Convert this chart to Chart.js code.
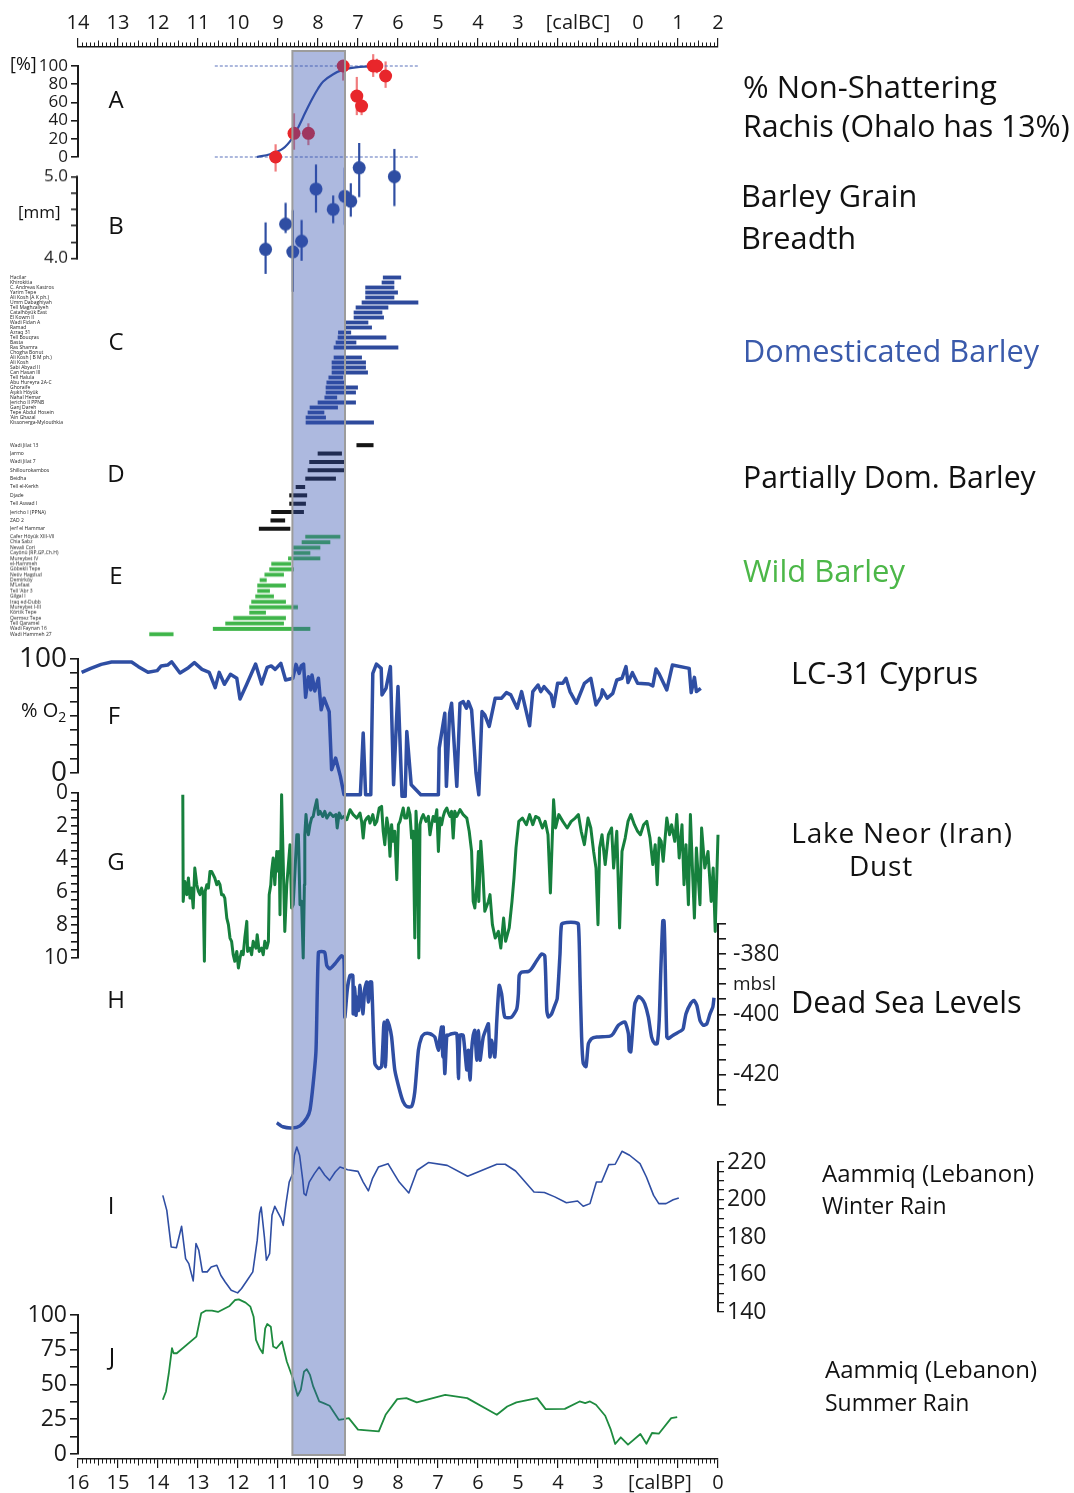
<!DOCTYPE html>
<html>
<head>
<meta charset="utf-8">
<script src="https://cdn.jsdelivr.net/npm/chart.js@4.4.0/dist/chart.umd.min.js"></script>
<style>
body { margin: 0; background: #fff; }
#page { position: relative; width: 1074px; height: 1493px; overflow: hidden; font-family: 'Open Sans', sans-serif; color: #111; }
#page canvas { position: absolute; left: 0; }
.t { position: absolute; white-space: nowrap; line-height: 1; }
</style>
</head>
<body>
<div id="page"></div>
<script>
// ========================================
// DATA (ages in kyr calBP)
// ========================================

// time axis
const bpMajor = [16, 15, 14, 13, 12, 11, 10, 9, 8, 7, 6, 5, 4, 3, 2, 1, 0];
const bpLabels = ['16', '15', '14', '13', '12', '11', '10', '9', '8', '7', '6', '5', '4', '3', '', '', '0'];
const bcLabels = ['14', '13', '12', '11', '10', '9', '8', '7', '6', '5', '4', '3', '', '', '0', '1', '2'];
const bpUnit = [1.45, '[calBP]'];
const bcUnit = [3.5, '[calBC]'];
const band = [10.64, 9.325];

// A - % non-shattering rachis
const rachisAge = [11.06, 10.6, 10.24, 9.37, 8.62, 8.53, 8.31, 9.03, 8.91];
const rachisPct = [0, 26, 26, 100, 100, 100, 89, 67, 56];
const rachisErrLo = [16, 18, 13, 16, 12, 8, 13, 21, 10];
const rachisErrHi = [14, 22, 11, 0, 13, 8, 16, 21, 10];
const curveAge = [11.53, 11.2, 10.87, 10.62, 10.5, 10.37, 10.25, 10.12, 10.0, 9.87, 9.62, 9.37, 9.15, 8.95, 8.53];
const curvePct = [0, 3, 9.5, 22, 32, 44, 55, 66, 75, 83, 91, 96, 98, 99, 100];
const guideAge = [12.58, 7.5];
const guideHigh = [100, 100];
const guideLow = [0, 0];

// B - barley grain breadth
const grainAge = [11.31, 10.81, 10.63, 10.41, 10.05, 9.62, 9.33, 9.18, 8.97, 8.09];
const grainMm = [4.11, 4.42, 4.08, 4.21, 4.85, 4.60, 4.76, 4.70, 5.11, 5.00];
const grainErrLo = [0.3, 0.11, 0.49, 0.24, 0.29, 0.17, 0.35, 0.19, 0.36, 0.36];
const grainErrHi = [0.33, 0.26, 0.51, 0.26, 0.3, 0.17, 0.35, 0.22, 0.34, 0.34];
const grainTicks = [4.0, 4.2, 4.4, 4.6, 4.8, 5.0];

// C - domesticated barley sites
const domSites = ['Hacilar', 'Khirokitia', 'C. Andreas Kastros', 'Yarim Tepe', 'Ali Kosh (A K ph.)', 'Umm Dabaghiyah',
  'Tell Maghzaliyeh', 'Catalhöyük East', 'El Kowm II', 'Wadi Fidan A', 'Ramad', 'Azraq 31', 'Tell Bouqras', 'Basta',
  'Ras Shamra', 'Chogha Bonut', 'Ali Kosh ( B M ph.)', 'Ali Kosh', 'Sabi Abyad II', 'Can Hasan III', 'Tell Halula',
  'Abu Hureyra 2A-C', 'Ghoraife', 'Aşıklı Höyük', 'Nahal Hemar', 'Jericho II PPNB', 'Ganj Dareh', 'Tepe Abdul Hosein',
  '\u2019Ain Ghazal', 'Kissonerga-Mylouthkia'];
domSites.splice(3, 0, 'Yarim Tepe');
domSites.splice(4, 1);
const domDates = [[8.37, 7.93], [8.4, 8.1], [8.81, 8.1], [8.81, 8.01], [8.81, 8.1], [8.9, 7.5], [9.05, 8.25], [9.1, 8.4],
  [9.1, 8.36], [9.3, 8.75], [9.3, 8.66], [9.49, 9.18], [9.5, 8.3], [9.55, 9.05], [9.6, 8.0], null, [9.6, 8.91], [9.65, 8.81],
  [9.65, 8.81], [9.65, 8.76], [9.73, 9.38], [9.78, 9.33], [9.8, 9.01], [9.8, 9.06], [9.83, 9.53], [10.0, 9.06], [10.2, 9.51],
  [10.25, 9.85], [10.3, 9.81], [10.3, 8.61], [10.71, 10.21]];

// D - partially domesticated barley
const partSites = ['Wadi Jilat 13', 'Jarmo', 'Wadi Jilat 7', 'Shillourokambos', 'Beidha', 'Tell el-Kerkh', 'Djade',
  'Tell Aswad I', 'Jericho I (PPNA)', 'ZAD 2', 'Jerf el Hammar'];
const partDates = [[9.03, 8.62], [10.0, 9.41], [10.21, 9.35], [10.25, 9.35], [10.31, 9.56], [10.55, 10.33], [10.71, 10.28],
  [10.71, 10.31], [11.16, 10.36], [11.18, 10.83], [11.47, 10.7]];

// E - wild barley
const wildSites = ['Cafer Höyük XIII-VII', 'Chia Sabz', 'Nevali Cori', 'Cayönü (RP,GP,Ch.H)', 'Mureybet IV', 'el-Hammeh',
  'Göbekli Tepe', 'Netiv Hagdud', 'Demirköy', 'M\u2019Lefaat', 'Tell \u2019Abr 3', 'Gilgal I', 'Iraq ed-Dubb', 'Mureybet I-III',
  'Körtik Tepe', 'Qermez Tepe', 'Tell Qaramel', 'Wadi Faynan 16', 'Wadi Hammeh 27'];
const wildDates = [[10.31, 9.45], [10.4, 9.7], [10.61, 9.95], [10.61, 10.2], [10.74, 9.95], [11.16, 10.68], [11.21, 10.61],
  [11.33, 10.86], [11.45, 11.29], [11.51, 10.81], [11.51, 11.21], [11.56, 11.11], [11.66, 10.81], [11.71, 10.51],
  [11.71, 11.31], [12.11, 10.81], [12.31, 10.86], [12.62, 10.2], [14.21, 13.62]];

// F - LC-31 Cyprus, % O2
const cyprusAge = [15.91, 15.68, 15.42, 15.16, 14.66, 14.49, 14.25, 14.02, 13.92, 13.76, 13.66, 13.45, 13.24, 13.09, 12.9,
  12.72, 12.57, 12.47, 12.34, 12.19, 12.03, 11.95, 11.79, 11.56, 11.41, 11.27, 11.17, 11.07, 10.93, 10.81, 10.63, 10.55,
  10.47, 10.42, 10.36, 10.31, 10.24, 10.18, 10.15, 10.08, 9.99, 9.92, 9.85, 9.72, 9.66, 9.56, 9.44, 9.35, 8.94, 8.87, 8.81,
  8.68, 8.63, 8.54, 8.42, 8.4, 8.3, 8.19, 8.11, 8.0, 7.9, 7.82, 7.78, 7.67, 7.43, 6.99, 6.97, 6.83, 6.79, 6.71, 6.66, 6.53,
  6.45, 6.37, 6.29, 6.24, 6.16, 6.05, 5.98, 5.9, 5.83, 5.72, 5.57, 5.41, 5.29, 5.18, 5.02, 4.91, 4.71, 4.63, 4.5, 4.43,
  4.35, 4.17, 4.11, 4.01, 3.88, 3.8, 3.7, 3.54, 3.34, 3.18, 3.05, 2.92, 2.89, 2.77, 2.63, 2.53, 2.4, 2.3, 2.25, 2.14, 2.01,
  1.73, 1.63, 1.55, 1.47, 1.28, 1.14, 0.72, 0.67, 0.59, 0.54, 0.43];
const cyprusO2 = [88.3, 91.8, 95.3, 97.4, 97.4, 93.3, 88.3, 89.8, 93.9, 94.7, 97.6, 87.7, 92.4, 96.8, 90.9, 88.3, 74.9,
  88.3, 77.8, 86.6, 83.1, 65.0, 77.2, 95.6, 78.1, 92.7, 93.9, 90.9, 96.2, 81.6, 83.1, 95.3, 87.4, 93.9, 95.6, 66.4, 84.5,
  72.9, 86.0, 72.0, 83.1, 55.4, 65.6, 53.9, 2.9, 13.1, -3, -19, -19, 35, -19, -19, 87.4, 95.6, 91.8, 68.5, 74.3, 93.3, -10.3,
  75.8, -20.5, -20.5, 36.4, -10.3, -19, -19, 21.8, 52.4, -11.7, 52.4, 61.2, -11.7, 61.2, 62.6, 56.8, 62.6, 55.4, 0, -19,
  53.9, 51.0, 40.8, 65.6, 65.6, 70.5, 68.5, 56.8, 71.4, 41.4, 71.4, 77.2, 71.4, 75.8, 68.5, 58.3, 78.7, 78.7, 83.1, 71.4,
  61.2, 78.7, 83.1, 59.7, 67.0, 72.9, 65.6, 69.9, 81.6, 83.1, 93.3, 79.3, 88.0, 78.7, 78.1, 76.4, 91.2, 86.9, 72.9, 94.7,
  91.8, 70.5, 83.9, 71.4, 74.3];

// G - Lake Neor dust
const neorAge = [13.38, 13.37, 13.33, 13.28, 13.24, 13.2, 13.16, 13.12, 13.08, 13.03, 12.99, 12.95, 12.91, 12.87, 12.84,
  12.82, 12.78, 12.74, 12.7, 12.66, 12.62, 12.58, 12.53, 12.49, 12.45, 12.41, 12.37, 12.33, 12.28, 12.24, 12.2, 12.16,
  12.12, 12.08, 12.03, 11.99, 11.95, 11.91, 11.87, 11.83, 11.78, 11.76, 11.7, 11.66, 11.62, 11.55, 11.52, 11.47, 11.41,
  11.37, 11.33, 11.28, 11.24, 11.22, 11.18, 11.16, 11.12, 11.08, 11.03, 10.99, 10.97, 10.95, 10.91, 10.87, 10.83, 10.78,
  10.74, 10.7, 10.66, 10.62, 10.58, 10.53, 10.49, 10.45, 10.41, 10.37, 10.34, 10.33, 10.3, 10.27, 10.24, 10.2, 10.16,
  10.12, 10.08, 10.03, 9.99, 9.95, 9.88, 9.83, 9.78, 9.7, 9.62, 9.55, 9.52, 9.47, 9.41, 9.35, 9.28, 9.2, 9.12, 9.03, 8.95,
  8.91, 8.87, 8.83, 8.78, 8.74, 8.7, 8.63, 8.58, 8.53, 8.47, 8.41, 8.37, 8.33, 8.28, 8.24, 8.2, 8.16, 8.12, 8.08, 8.03,
  7.99, 7.95, 7.91, 7.87, 7.83, 7.78, 7.74, 7.7, 7.66, 7.62, 7.58, 7.55, 7.52, 7.48, 7.45, 7.41, 7.37, 7.3, 7.24, 7.2,
  7.16, 7.12, 7.08, 7.03, 6.99, 6.95, 6.91, 6.87, 6.83, 6.78, 6.74, 6.7, 6.66, 6.62, 6.58, 6.53, 6.45, 6.37, 6.28, 6.22,
  6.16, 6.12, 6.08, 6.03, 5.99, 5.98, 5.93, 5.88, 5.83, 5.74, 5.7, 5.64, 5.57, 5.49, 5.43, 5.36, 5.31, 5.22, 5.15, 5.1,
  5.05, 4.98, 4.89, 4.79, 4.71, 4.63, 4.56, 4.48, 4.39, 4.32, 4.25, 4.19, 4.11, 4.06, 3.98, 3.88, 3.77, 3.67, 3.57, 3.49,
  3.42, 3.34, 3.25, 3.18, 3.11, 3.05, 3.0, 2.96, 2.9, 2.82, 2.74, 2.66, 2.61, 2.53, 2.46, 2.4, 2.32, 2.25, 2.18, 2.09,
  2.01, 1.94, 1.86, 1.78, 1.7, 1.63, 1.57, 1.52, 1.47, 1.42, 1.37, 1.28, 1.21, 1.16, 1.08, 1.03, 0.97, 0.9, 0.85, 0.8,
  0.74, 0.69, 0.64, 0.59, 0.54, 0.45, 0.41, 0.33, 0.25, 0.17, 0.12, 0.07, 0.0];
const neorDust = [0.1, 6.57, 5.36, 6.16, 5.15, 6.37, 5.76, 6.97, 4.55, 5.56, 5.96, 6.16, 5.76, 6.16, 10.2, 5.96, 5.56,
  5.76, 4.75, 4.75, 4.95, 5.15, 5.56, 5.36, 5.56, 6.16, 6.16, 6.37, 7.58, 7.98, 8.79, 8.99, 9.8, 10.2, 9.6, 10.6, 10.0,
  9.6, 9.8, 8.79, 7.78, 9.6, 9.4, 9.8, 8.99, 9.4, 8.59, 9.6, 9.4, 9.8, 8.99, 9.4, 8.99, 6.16, 5.56, 4.75, 3.94, 5.56,
  3.54, 4.75, 3.54, 7.38, 0.1, 4.14, 8.39, 5.56, 4.34, 3.13, 6.97, 6.77, 4.95, 2.53, 2.53, 6.77, 6.57, 10.0, 5.56, 2.53,
  1.31, 2.12, 2.53, 1.92, 1.52, 1.42, 0.91, 0.41, 1.31, 1.11, 1.42, 1.11, 1.52, 1.21, 1.42, 1.31, 2.12, 1.21, 1.52, 1.42,
  1.62, 1.01, 1.31, 1.52, 1.21, 1.72, 2.73, 1.72, 1.52, 1.42, 1.82, 1.31, 1.92, 1.72, 0.91, 0.81, 2.32, 3.13, 1.52, 2.12,
  3.84, 1.92, 2.93, 2.32, 5.25, 1.92, 1.72, 1.31, 0.91, 1.52, 1.52, 0.91, 1.31, 2.73, 2.32, 8.79, 1.11, 2.53, 10.0, 1.92,
  1.52, 1.31, 1.72, 1.42, 2.53, 1.92, 1.42, 1.72, 1.01, 3.54, 1.52, 1.92, 1.42, 1.11, 0.91, 1.21, 1.42, 1.11, 2.73, 1.11,
  1.42, 1.01, 1.31, 1.52, 2.32, 3.54, 6.57, 6.97, 5.56, 3.54, 6.57, 2.93, 4.75, 7.17, 6.57, 6.16, 7.98, 8.79, 8.39, 9.4,
  7.58, 8.99, 8.18, 6.57, 5.15, 3.33, 1.72, 1.52, 1.92, 1.31, 1.92, 1.42, 1.52, 2.12, 1.72, 2.53, 6.06, 0.41, 2.12, 1.31,
  1.72, 2.12, 1.72, 1.52, 1.31, 2.32, 3.13, 1.52, 2.12, 3.54, 4.55, 7.98, 3.33, 2.53, 4.34, 2.53, 2.12, 4.55, 2.32, 8.18,
  3.54, 2.73, 1.72, 1.31, 1.92, 2.32, 2.53, 1.92, 1.72, 2.73, 4.34, 3.13, 5.56, 2.73, 2.93, 4.14, 1.52, 2.53, 1.92, 2.93,
  1.31, 3.94, 1.92, 5.56, 3.13, 6.77, 1.31, 4.55, 7.58, 3.33, 6.77, 2.12, 4.55, 3.54, 6.57, 4.55, 8.39, 2.53];

// H - Dead Sea levels (m below sea level)
const deadSeaAge = [11.03, 10.88, 10.65, 10.45, 10.28, 10.2, 10.12, 10.05, 9.99, 9.91, 9.83, 9.78, 9.7, 9.58, 9.41, 9.35,
  9.33, 9.27, 9.2, 9.13, 9.12, 9.08, 9.05, 9.02, 8.99, 8.95, 8.88, 8.83, 8.78, 8.74, 8.7, 8.66, 8.58, 8.49, 8.41, 8.35,
  8.31, 8.27, 8.22, 8.16, 8.08, 7.95, 7.87, 7.78, 7.66, 7.58, 7.49, 7.41, 7.33, 7.2, 7.08, 6.99, 6.95, 6.91, 6.88, 6.87,
  6.83, 6.78, 6.74, 6.66, 6.53, 6.49, 6.45, 6.37, 6.28, 6.24, 6.2, 6.16, 6.12, 6.08, 6.03, 5.99, 5.95, 5.87, 5.78, 5.74,
  5.7, 5.66, 5.58, 5.53, 5.47, 5.41, 5.33, 5.16, 5.03, 4.99, 4.97, 4.91, 4.74, 4.66, 4.53, 4.41, 4.33, 4.28, 4.24, 4.16,
  4.08, 4.02, 3.95, 3.91, 3.78, 3.58, 3.49, 3.45, 3.41, 3.37, 3.3, 3.24, 3.16, 3.03, 2.7, 2.62, 2.49, 2.33, 2.24, 2.22,
  2.18, 2.13, 2.08, 1.99, 1.91, 1.83, 1.74, 1.66, 1.58, 1.52, 1.47, 1.43, 1.38, 1.35, 1.33, 1.28, 1.24, 1.12, 0.91, 0.87,
  0.8, 0.68, 0.6, 0.53, 0.45, 0.37, 0.28, 0.2, 0.13, 0.1];
const deadSeaLevel = [-435.9, -437.2, -437.6, -436.9, -434.3, -431.6, -422.8, -411.9, -379.5, -379.2, -379.5, -383.8,
  -384.9, -383.3, -380.6, -381.7, -400.9, -392.1, -387.1, -387.1, -399.8, -391.0, -400.3, -394.3, -398.7, -390.4, -399.8,
  -391.5, -389.3, -395.9, -389.3, -389.3, -416.2, -417.9, -417.3, -402.5, -417.3, -402.0, -403.6, -407.5, -418.4, -425.6,
  -428.9, -430.5, -430.5, -425.6, -411.9, -407.5, -406.4, -406.4, -407.5, -411.9, -407.5, -404.2, -414.1, -404.2, -419.6,
  -406.9, -406.9, -406.4, -406.4, -421.2, -406.9, -406.9, -418.4, -411.9, -421.7, -411.9, -406.9, -405.3, -415.2, -405.3,
  -415.2, -407.5, -404.2, -403.1, -414.1, -408.6, -414.1, -402.0, -390.4, -393.2, -400.9, -400.9, -398.1, -393.2, -387.1,
  -386.0, -385.8, -384.9, -382.2, -380.0, -380.6, -398.7, -400.9, -399.8, -397.0, -394.8, -380.0, -370.1, -369.6, -369.6,
  -370.1, -387.7, -407.5, -416.2, -417.3, -409.7, -408.0, -407.5, -407.2, -406.4, -403.6, -402.5, -406.4, -411.9, -412.4,
  -404.2, -396.5, -394.1, -394.8, -396.5, -400.9, -407.5, -409.7, -409.7, -402.0, -385.5, -369.0, -369.0, -376.7, -407.5,
  -408.0, -406.9, -405.3, -404.7, -399.8, -396.3, -395.4, -397.0, -402.0, -403.6, -403.1, -399.8, -397.6, -394.5];

// I - Aammiq winter rain
const winterAge = [13.88, 13.78, 13.67, 13.54, 13.41, 13.31, 13.23, 13.12, 13.05, 12.98, 12.89, 12.77, 12.67, 12.53,
  12.43, 12.32, 12.17, 12.01, 11.91, 11.77, 11.63, 11.52, 11.46, 11.42, 11.34, 11.29, 11.21, 11.15, 11.08, 11.01, 10.92,
  10.87, 10.8, 10.72, 10.63, 10.59, 10.53, 10.46, 10.38, 10.35, 10.3, 10.22, 10.09, 9.97, 9.83, 9.71, 9.57, 9.45, 9.26,
  9.0, 8.87, 8.74, 8.64, 8.49, 8.25, 8.1, 7.97, 7.73, 7.52, 7.24, 6.77, 6.26, 5.53, 5.32, 5.06, 4.6, 4.34, 4.08, 3.79,
  3.51, 3.37, 3.2, 3.04, 2.91, 2.73, 2.57, 2.4, 2.21, 1.95, 1.79, 1.61, 1.48, 1.3, 1.12, 0.98];
const winterRain = [202.2, 194.2, 174.7, 174.3, 185.7, 168.5, 165.8, 156.6, 176.5, 172.9, 161.4, 161.4, 164.0, 164.9,
  159.6, 156.0, 151.6, 150.2, 152.5, 156.9, 161.4, 178.2, 192.5, 196.0, 180.0, 167.6, 171.1, 191.6, 196.4, 193.4, 189.8,
  186.2, 197.8, 209.3, 213.8, 223.6, 228.0, 223.6, 210.2, 203.1, 202.2, 209.3, 213.8, 217.3, 212.9, 210.2, 214.7, 217.3,
  215.9, 215.0, 209.3, 204.6, 211.1, 217.3, 219.1, 213.8, 209.3, 203.5, 215.6, 219.7, 218.2, 212.4, 218.8, 218.8, 215.2,
  204.0, 203.7, 201.4, 198.3, 199.2, 196.4, 197.8, 209.3, 209.3, 218.6, 218.8, 225.7, 223.6, 219.1, 212.0, 202.2, 197.8,
  197.8, 199.9, 200.8];

// J - Aammiq summer rain
const summerAge = [13.88, 13.8, 13.73, 13.65, 13.61, 13.53, 13.04, 12.92, 12.81, 12.65, 12.5, 12.21, 12.07, 11.98, 11.81,
  11.69, 11.61, 11.55, 11.46, 11.38, 11.32, 11.27, 11.18, 11.12, 11.04, 10.9, 10.78, 10.63, 10.51, 10.43, 10.35, 10.28,
  10.2, 10.12, 9.97, 9.86, 9.71, 9.48, 9.36, 9.23, 9.0, 8.48, 8.31, 8.02, 7.79, 7.53, 6.82, 6.27, 5.53, 5.27, 5.04, 4.52,
  4.31, 3.83, 3.46, 3.32, 3.2, 3.05, 2.82, 2.68, 2.57, 2.43, 2.25, 1.94, 1.79, 1.65, 1.48, 1.17, 1.02];
const summerRain = [39.0, 45.0, 58.1, 76.1, 72.5, 72.5, 84.4, 101.2, 103.1, 103.1, 102.2, 106.5, 110.8, 111.2, 108.9, 106.0,
  98.8, 82.1, 76.1, 72.5, 90.4, 93.5, 91.6, 77.3, 76.1, 80.9, 66.5, 54.5, 41.9, 46.2, 59.3, 61.0, 56.9, 48.6, 37.8, 36.6,
  34.7, 24.6, 25.1, 25.8, 17.5, 16.3, 28.2, 39.5, 40.2, 37.1, 42.6, 40.2, 28.2, 34.2, 37.1, 40.2, 32.3, 32.5, 37.8, 36.6,
  37.8, 35.4, 27.5, 17.5, 7.2, 12.0, 6.7, 14.4, 7.4, 15.1, 14.6, 25.8, 26.6];

// ========================================
// LAYOUT / STYLE
// ========================================

const PAGE_W = 1074, PAGE_H = 1493;
const X_LEFT = 78, X_RIGHT = 718;
const FONT = "'Open Sans', sans-serif";
const INK = '#1a1a1a';
const BLUE = '#2f4ea3';
const RED = '#e8262b';
const DARK_GREEN = '#16803d';
const BAR_BLUE = '#2e4a9c';
const BAR_GREEN = '#3fb54a';

Chart.defaults.font.family = FONT;
const page = document.getElementById('page');

function addCanvas(top, height) {
    const c = document.createElement('canvas');
    c.width = PAGE_W;
    c.height = height;
    c.style.top = top + 'px';
    c.style.width = PAGE_W + 'px';
    c.style.height = height + 'px';
    page.appendChild(c);
    return c;
}

function txt(str, x, y, size, opts = {}) {
    const d = document.createElement('div');
    d.className = 't';
    d.innerHTML = str;
    d.style.left = x + 'px';
    d.style.top = (y - size * 0.53) + 'px';
    d.style.fontSize = size + 'px';
    if (opts.color) d.style.color = opts.color;
    if (opts.center) d.style.transform = 'translateX(-50%)';
    if (opts.spacing) d.style.letterSpacing = opts.spacing + 'px';
    page.appendChild(d);
}

const pts = (xs, ys) => xs.map((x, i) => ({ x, y: ys[i] }));

function line(xs, ys, color, width, extra = {}) {
    return Object.assign({ data: pts(xs, ys), borderColor: color, borderWidth: width, pointRadius: 0,
        fill: false, clip: false, tension: 0, borderJoinStyle: 'round' }, extra);
}

function dots(xs, ys, color, extra = {}) {
    return Object.assign({ data: pts(xs, ys), showLine: false, pointRadius: 6.5, pointBackgroundColor: color,
        pointBorderWidth: 0, clip: false }, extra);
}

const xHidden = { type: 'linear', min: 0, max: 16, reverse: true, display: false };

function valueAxis(position, min, max, step, size, labelFn, extra = {}) {
    return Object.assign({
        type: 'linear', position, min, max,
        afterFit: s => { s.width = position === 'left' ? X_LEFT : 60; },
        grid: { drawOnChartArea: false, tickLength: 7, color: INK, lineWidth: 1.6 },
        border: { color: INK, width: 2 },
        ticks: { stepSize: step, autoSkip: false, color: INK, padding: 3, font: { family: FONT, size },
            callback: labelFn }
    }, extra);
}

const near = (a, b) => Math.abs(a - b) < 1e-6;

function panelChart(areaTop, areaBottom, padTop, padBottom, config, rightAxis) {
    const canvas = addCanvas(areaTop - padTop, areaBottom - areaTop + padTop + padBottom);
    const right = rightAxis ? PAGE_W - X_RIGHT - 60 : PAGE_W - X_RIGHT;
    config.options = Object.assign({ responsive: false, animation: false, events: [] }, config.options);
    config.options.layout = { padding: { top: padTop, bottom: padBottom, left: rightAxis ? X_LEFT : 0, right } };
    config.options.plugins = { legend: { display: false }, tooltip: { enabled: false } };
    return new Chart(canvas, config);
}

function sitesChart(areaTop, areaBottom, sites, dates, color, thickness) {
    const canvas = addCanvas(areaTop - 10, areaBottom - areaTop + 20);
    return new Chart(canvas, {
        type: 'bar',
        data: { labels: sites, datasets: [{ data: dates, backgroundColor: color, barThickness: thickness,
            borderSkipped: false }] },
        options: {
            responsive: false, animation: false, events: [], indexAxis: 'y',
            layout: { padding: { top: 10, bottom: 10, left: 10, right: PAGE_W - X_RIGHT } },
            plugins: { legend: { display: false }, tooltip: { enabled: false } },
            scales: {
                x: xHidden,
                y: { type: 'category', offset: true, afterFit: s => { s.width = X_LEFT - 10; },
                    grid: { display: false }, border: { display: false },
                    ticks: { autoSkip: false, crossAlign: 'far', padding: 0, color: '#222',
                        font: { family: FONT, size: 5 } } }
            }
        }
    });
}

// error bars drawn under the points
const errorBarPlugin = {
    id: 'errorBars',
    beforeDatasetsDraw(chart) {
        const { ctx, scales: { x, y } } = chart;
        chart.data.datasets.forEach(ds => {
            if (!ds.errLo) return;
            ctx.save();
            ctx.strokeStyle = ds.errColor;
            ctx.lineWidth = 2.2;
            ds.data.forEach((p, i) => {
                const px = x.getPixelForValue(p.x);
                ctx.beginPath();
                ctx.moveTo(px, y.getPixelForValue(p.y - ds.errLo[i]));
                ctx.lineTo(px, y.getPixelForValue(p.y + ds.errHi[i]));
                ctx.stroke();
            });
            ctx.restore();
        });
    }
};

// axis line only over the ticked range (B has room around it for the points)
const shortAxisPlugin = {
    id: 'shortAxis',
    afterDraw(chart) {
        const { ctx, chartArea, scales: { y } } = chart;
        ctx.save();
        ctx.strokeStyle = INK;
        ctx.lineWidth = 2;
        ctx.beginPath();
        ctx.moveTo(chartArea.left - 1, y.getPixelForValue(grainTicks[0]) + 1);
        ctx.lineTo(chartArea.left - 1, y.getPixelForValue(grainTicks[grainTicks.length - 1]) - 1);
        ctx.stroke();
        ctx.restore();
    }
};

// ========================================
// PANELS
// ========================================

// A
panelChart(66, 157, 20, 20, {
    type: 'line',
    data: { datasets: [
        dots(rachisAge, rachisPct, RED, { errLo: rachisErrLo, errHi: rachisErrHi, errColor: '#f07c7e' }),
        line(curveAge, curvePct, BLUE, 2.2, { tension: 0.35 }),
        line(guideAge, guideHigh, '#5a72bb', 1.1, { borderDash: [3, 2] }),
        line(guideAge, guideLow, '#5a72bb', 1.1, { borderDash: [3, 2] })
    ] },
    options: { scales: { x: xHidden, y: valueAxis('left', 0, 100, 20, 17, v => String(v)) } },
    plugins: [errorBarPlugin]
});

// B (scale runs 3.75-5.25 so the outlying points are still drawn; ticks only 4.0-5.0)
panelChart(155.25, 279.75, 12, 12, {
    type: 'line',
    data: { datasets: [
        dots(grainAge, grainMm, BLUE, { errLo: grainErrLo, errHi: grainErrHi, errColor: BLUE })
    ] },
    options: { scales: { x: xHidden,
        y: valueAxis('left', 3.75, 5.25, 0.2, 17, v => (near(v, 4) || near(v, 5)) ? v.toFixed(1) : '', {
            afterBuildTicks: s => { s.ticks = grainTicks.map(v => ({ value: v })); },
            border: { display: false }
        }) } },
    plugins: [errorBarPlugin, shortAxisPlugin]
});

// C, D, E
sitesChart(274.6, 425.4, domSites, domDates, BAR_BLUE, 3.2);
sitesChart(440.8, 533.2, partSites, partDates, '#151515', 3.4);
sitesChart(534.3, 636.7, wildSites, wildDates, BAR_GREEN, 3.2);

// F
panelChart(659, 773.3, 30, 30, {
    type: 'line',
    data: { datasets: [line(cyprusAge, cyprusO2, BLUE, 3.5)] },
    options: { scales: { x: xHidden,
        y: valueAxis('left', 0, 100, 12.5, 28, v => (v === 0 || v === 100) ? String(v) : '',
            { grid: { drawOnChartArea: false, tickLength: 8, color: INK, lineWidth: 1.6 } }) } }
});

// G
panelChart(793.3, 958.3, 20, 20, {
    type: 'line',
    data: { datasets: [line(neorAge, neorDust, DARK_GREEN, 3)] },
    options: { scales: { x: xHidden,
        y: valueAxis('left', 0, 10, 0.5, 21, v => (v % 2 === 0) ? String(v) : '', { reverse: true }) } }
});

// H
panelChart(923, 1105, 20, 40, {
    type: 'line',
    data: { datasets: [line(deadSeaAge, deadSeaLevel, BLUE, 3.5, { tension: 0.2 })] },
    options: { scales: { x: xHidden,
        y: valueAxis('right', -430, -370, 5, 23, v => {
            if (v === -380 || v === -400 || v === -420) return String(v);
            if (v === -390) return 'mbsl';
            return '';
        }, { grid: { drawOnChartArea: false, tickLength: 8, color: INK, lineWidth: 1.6 } }) } }
}, true);
const hChart = Chart.getChart(page.lastChild);
hChart.options.scales.y.ticks.font = c => ({ family: FONT, size: c.tick && c.tick.value === -390 ? 19 : 23 });
hChart.options.scales.y.ticks.padding = 7;
hChart.update();

// I
panelChart(1161.7, 1311.7, 20, 20, {
    type: 'line',
    data: { datasets: [line(winterAge, winterRain, BLUE, 1.6)] },
    options: { scales: { x: xHidden,
        y: valueAxis('right', 140, 220, 5, 23, v => (v % 20 === 0) ? String(v) : '',
            { grid: { drawOnChartArea: false, tickLength: 6, color: INK, lineWidth: 1.3 } }) } }
}, true);

// J
panelChart(1315, 1454.3, 20, 20, {
    type: 'line',
    data: { datasets: [line(summerAge, summerRain, '#1e8b3f', 1.8)] },
    options: { scales: { x: xHidden,
        y: valueAxis('left', 0, 100, 12.5, 23, v => (v % 25 === 0) ? String(v) : '',
            { grid: { drawOnChartArea: false, tickLength: 8, color: INK, lineWidth: 1.6 } }) } }
});

// ========================================
// OVERLAY: time axes + shaded band
// ========================================

const overlayPlugin = {
    id: 'rulerAndBand',
    afterDraw(chart) {
        const { ctx, chartArea: a } = chart;
        const bp = chart.scales.bpAxis;
        // shaded band
        const l = bp.getPixelForValue(band[0]), r = bp.getPixelForValue(band[1]);
        ctx.save();
        ctx.fillStyle = 'rgba(50, 80, 175, 0.4)';
        ctx.fillRect(l, a.top + 4, r - l, a.bottom - a.top - 8);
        ctx.strokeStyle = '#9c9c9c';
        ctx.lineWidth = 2;
        ctx.strokeRect(l, a.top + 4, r - l, a.bottom - a.top - 8);
        // minor ruler ticks
        ctx.strokeStyle = INK;
        ctx.lineWidth = 1;
        ctx.beginPath();
        [['bpAxis', a.bottom, 1], ['bcAxis', a.top, -1]].forEach(([id, y0, dir]) => {
            const s = chart.scales[id];
            for (let k = 0; k <= 160; k++) {
                if (k % 10 === 0) continue;
                const px = Math.round(s.getPixelForValue(k / 10)) + 0.5;
                ctx.moveTo(px, y0);
                ctx.lineTo(px, y0 + dir * (k % 5 === 0 ? 6.5 : 4.5));
            }
        });
        ctx.stroke();
        ctx.restore();
    }
};

function timeAxis(position, labels, unit, height) {
    return {
        type: 'linear', axis: 'x', position, min: 0, max: 16, reverse: true,
        afterBuildTicks: s => { s.ticks = bpMajor.concat([unit[0]]).map(v => ({ value: v })); },
        afterFit: s => { s.height = height; },
        grid: { drawOnChartArea: false, tickLength: 9, lineWidth: 1.2,
            tickColor: c => c.index === bpMajor.length ? 'rgba(0,0,0,0)' : INK },
        border: { color: INK, width: 1.6 },
        ticks: { autoSkip: false, maxRotation: 0, minRotation: 0, padding: 3, color: INK,
            font: { family: FONT, size: 20 },
            callback: (v, i) => i === bpMajor.length ? unit[1] : labels[i] }
    };
}

new Chart(addCanvas(0, PAGE_H), {
    type: 'line',
    data: { datasets: [] },
    options: {
        responsive: false, animation: false, events: [],
        layout: { padding: { left: X_LEFT, right: PAGE_W - X_RIGHT, top: 0, bottom: 0 } },
        plugins: { legend: { display: false }, tooltip: { enabled: false } },
        scales: {
            bpAxis: timeAxis('bottom', bpLabels, bpUnit, PAGE_H - 1459),
            bcAxis: timeAxis('top', bcLabels, bcUnit, 47),
            y: { display: false, min: 0, max: 1 }
        }
    },
    plugins: [overlayPlugin]
});

// ========================================
// TEXT LABELS
// ========================================

[['A', 116, 100], ['B', 116, 226], ['C', 116, 342], ['D', 116, 474], ['E', 116, 576], ['F', 114, 716],
 ['G', 116, 862], ['H', 116, 1000], ['I', 111, 1206], ['J', 112, 1357]]
    .forEach(([s, x, y]) => txt(s, x, y, 24, { center: true }));

txt('[%]', 10, 64, 18);
txt('[mm]', 18, 212, 17);
txt('% O<sub style="font-size:0.7em">2</sub>', 21, 711, 20);

txt('% Non-Shattering', 743, 87, 31);
txt('Rachis (Ohalo has 13%)', 743, 127, 30.3);
txt('Barley Grain', 741, 196, 30.7);
txt('Breadth', 741, 238, 30.7);
txt('Domesticated Barley', 743, 351, 30.7, { color: '#3a5aab' });
txt('Partially Dom. Barley', 743, 478, 30.2);
txt('Wild Barley', 743, 571, 31, { color: '#4cb748' });
txt('LC-31 Cyprus', 791, 673, 30.6);
txt('Lake Neor (Iran)', 902, 833, 28, { center: true, spacing: 0.8 });
txt('Dust', 881, 866, 28, { center: true, spacing: 0.8 });
txt('Dead Sea Levels', 791, 1002, 30.7);
txt('Aammiq (Lebanon)', 822, 1174, 24);
txt('Winter Rain', 822, 1206, 23);
txt('Aammiq (Lebanon)', 825, 1370, 24);
txt('Summer Rain', 825, 1403, 23);
</script>
</body>
</html>
